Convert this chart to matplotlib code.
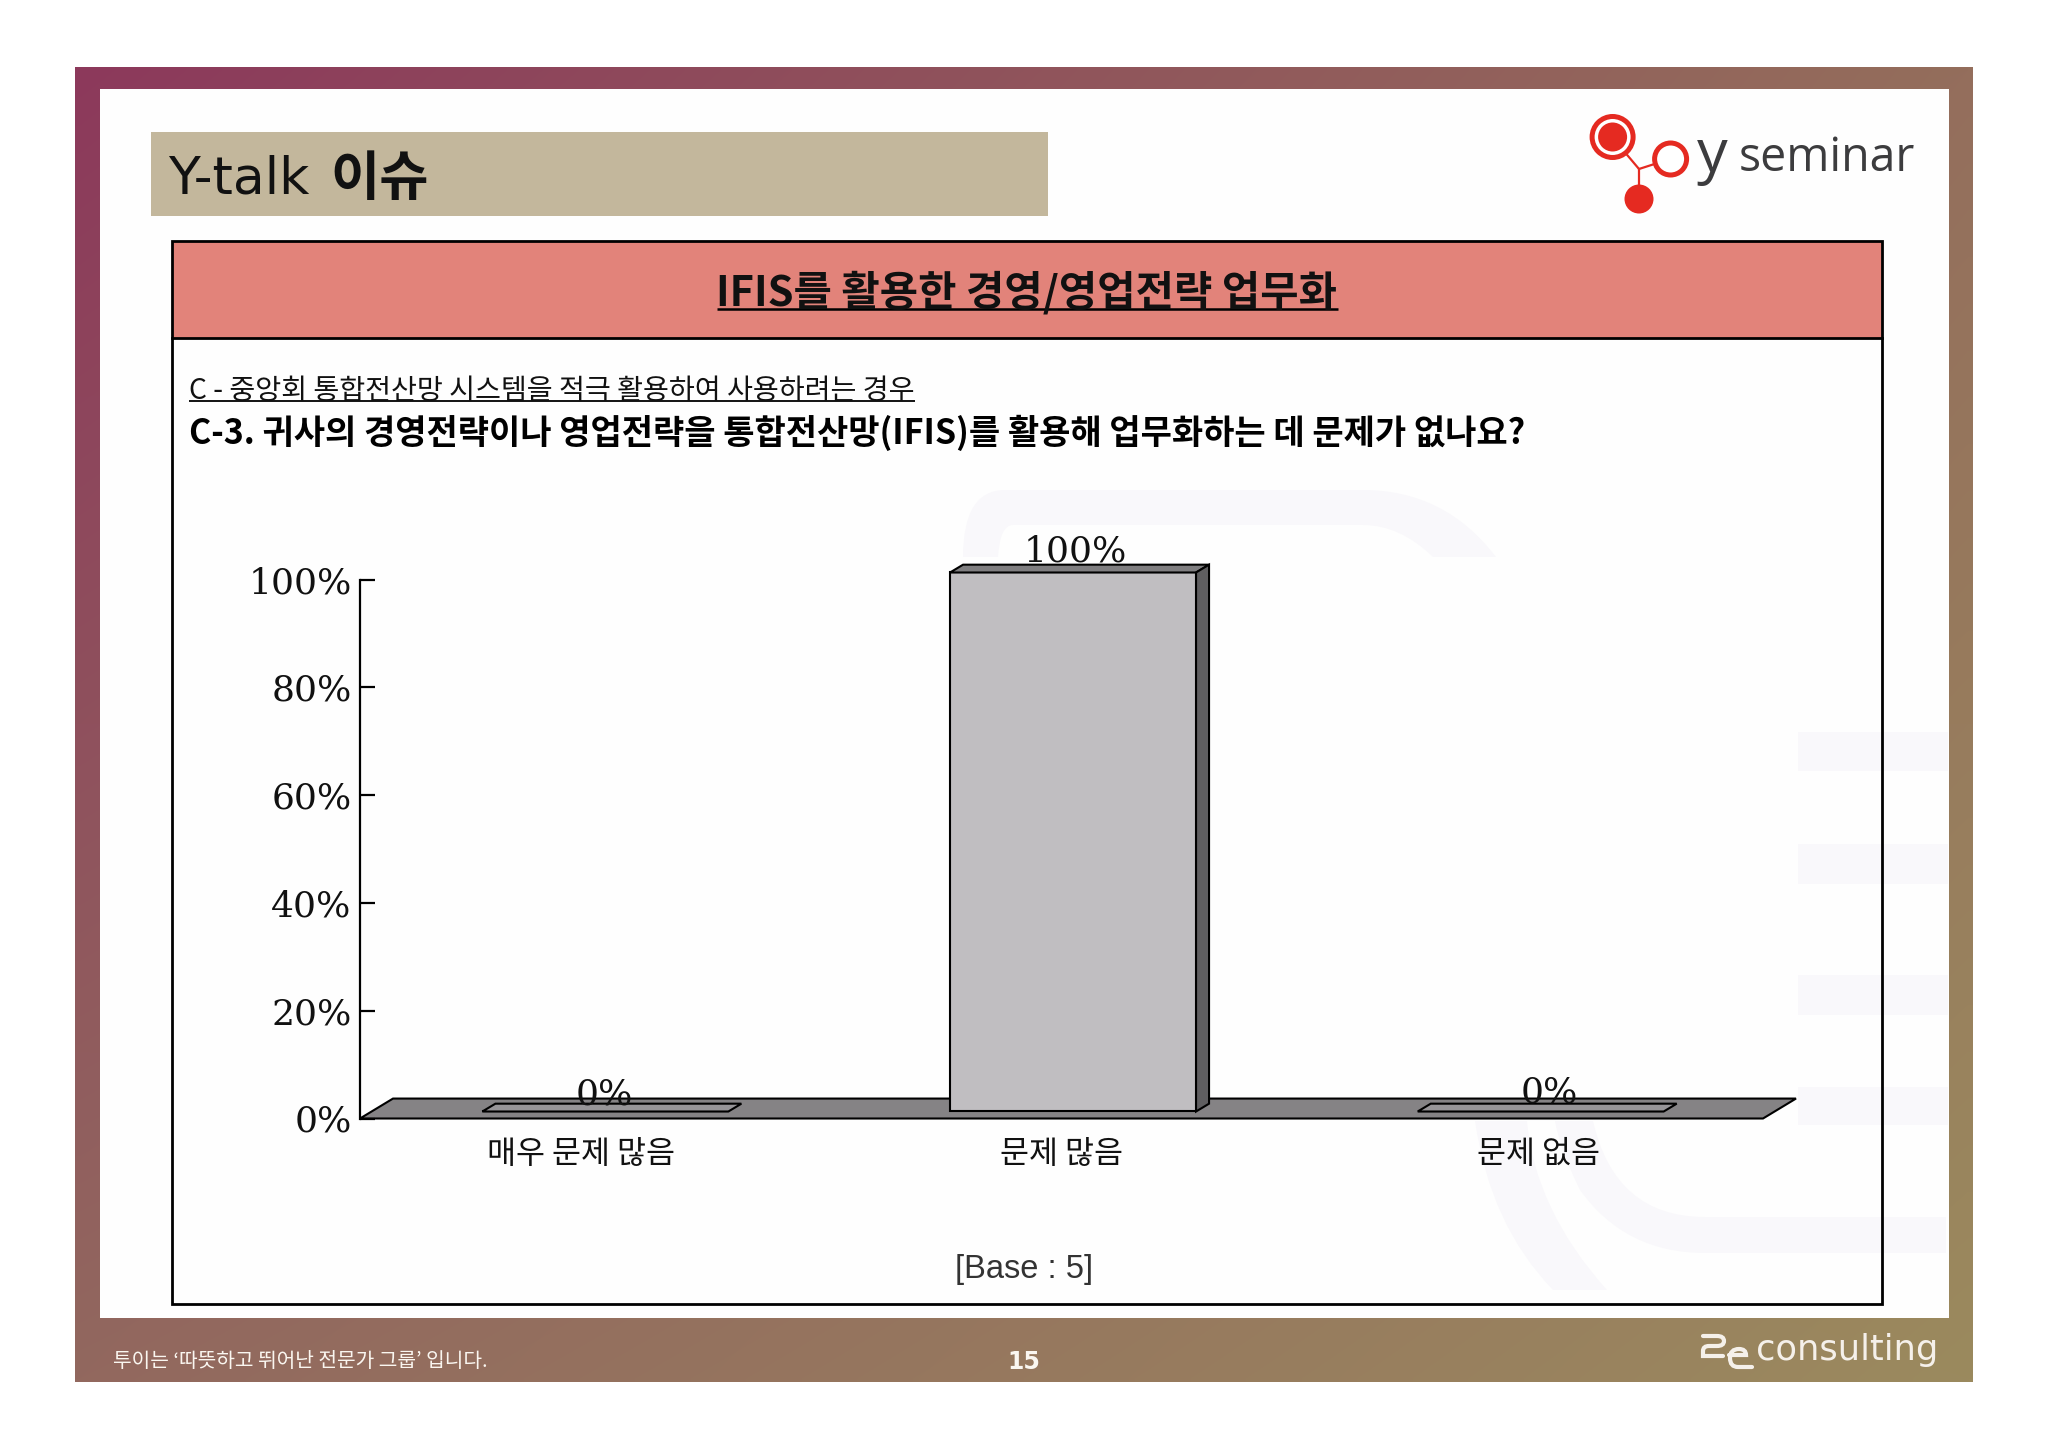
import numpy as np
import matplotlib
matplotlib.use("Agg")
import matplotlib.pyplot as plt
from matplotlib.patches import Rectangle, Circle, PathPatch
from matplotlib.path import Path

KR = ['Noto Sans CJK KR', 'DejaVu Sans']

### DATA
categories = ['매우 문제 많음', '문제 많음', '문제 없음']
values = [0, 100, 0]
y_ticks = [0, 20, 40, 60, 80, 100]
y_labels = ['0%', '20%', '40%', '60%', '80%', '100%']
value_labels = ['0%', '100%', '0%']

W, H = 2048, 1447
fig = plt.figure(figsize=(W / 100, H / 100), dpi=100, facecolor='white')

# page background in pixel coordinates
bg = fig.add_axes([0, 0, 1, 1], zorder=0)
bg.set_xlim(0, W)
bg.set_ylim(H, 0)
bg.axis('off')


def curve(points, **kw):
    # M/L/Q mini path helper: 2 item = line to, 4 item = quadratic to
    verts, codes = [points[0]], [Path.MOVETO]
    for p in points[1:]:
        if len(p) == 2:
            verts.append(p)
            codes.append(Path.LINETO)
        else:
            verts += [(p[0], p[1]), (p[2], p[3])]
            codes += [Path.CURVE3, Path.CURVE3]
    patch = PathPatch(Path(verts, codes), **kw)
    bg.add_patch(patch)
    return patch


def underlined(x, y, s, lw=2.0, **kw):
    t = bg.text(x, y, s, va='baseline', **kw)
    box = t.get_window_extent(fig.canvas.get_renderer())
    bg.plot([box.x0, box.x1], [y + lw + 1, y + lw + 1], color='black', lw=lw, solid_capstyle='butt')
    return t


# frame gradient
gx, gy = np.meshgrid(np.linspace(0, 1, 200), np.linspace(0, 1, 200))
corners = np.array([[140, 57, 91], [148, 110, 92], [146, 104, 95], [155, 138, 94]]) / 255
grad = np.zeros((200, 200, 3))
for c in range(3):
    grad[..., c] = (corners[0, c] * (1 - gx) * (1 - gy) + corners[1, c] * gx * (1 - gy)
                    + corners[2, c] * (1 - gx) * gy + corners[3, c] * gx * gy)
bg.imshow(grad, extent=(75, 1973, 1382, 67), aspect='auto', interpolation='bilinear', zorder=0)
bg.set_xlim(0, W)
bg.set_ylim(H, 0)
bg.add_patch(Rectangle((100, 89), 1849, 1229, fc='#FEFEFE', ec='none', zorder=1))

# faint watermark
mark = dict(fc='#F9F8FB', ec='none', zorder=1.5)
curve([(963, 557), (963, 490, 1005, 490), (1363, 490), (1445, 490, 1496, 557), (1433, 557),
       (1400, 525, 1363, 525), (1013, 525), (1000, 525, 998, 557)], **mark)
for top, bot in [(732, 771), (844, 884), (975, 1015), (1087, 1125)]:
    bg.add_patch(Rectangle((1798, top), 150, bot - top, **mark))
curve([(1475, 1121), (1490, 1225, 1553, 1290), (1607, 1290), (1535, 1210, 1527, 1121)], **mark)
curve([(1593, 1121), (1615, 1217, 1705, 1217), (1946, 1217), (1946, 1253), (1705, 1253),
       (1625, 1253, 1580, 1190), (1560, 1150, 1555, 1121)], **mark)

# title box
bg.add_patch(Rectangle((151, 132), 897, 84, fc='#C3B79C', ec='none', zorder=2))
bg.text(168, 194, 'Y-talk', fontsize=37.5, family='DejaVu Sans', color='#111111', va='baseline', zorder=3)
bg.text(330, 195, '이슈', fontsize=38.5, family=KR, weight='bold', color='#111111', va='baseline', zorder=3)

# logo
red = '#E52A21'
bg.plot([1612, 1639, 1670], [137, 169, 159], color=red, lw=1.6, zorder=2)
bg.plot([1639, 1639], [169, 199], color=red, lw=1.6, zorder=2)
bg.add_patch(Circle((1612.6, 137), 20.5, fc='white', ec=red, lw=3.6, zorder=3))
bg.add_patch(Circle((1612.6, 137), 14.5, fc=red, ec='none', zorder=4))
bg.add_patch(Circle((1670.6, 159), 16, fc='white', ec=red, lw=3.6, zorder=3))
bg.add_patch(Circle((1639, 199), 14.5, fc=red, ec='none', zorder=3))
bg.text(1697, 172, 'y', fontsize=44, family='Open Sans', color='#3C3C3E', va='baseline', zorder=3)
bg.text(1739, 171, 'seminar', fontsize=33.5, family='Open Sans', color='#3C3C3E', va='baseline', zorder=3)

# panel
bg.add_patch(Rectangle((172, 241), 1710, 97, fc='#E2837A', ec='none', zorder=2))
bg.add_patch(Rectangle((172, 241), 1710, 1063, fc='none', ec='black', lw=2, zorder=5))
bg.plot([172, 1882], [338, 338], color='black', lw=2, zorder=5)

underlined(1027, 306, 'IFIS를 활용한 경영/영업전략 업무화', lw=1.8, fontsize=30, family=KR, weight='bold',
           ha='center', color='#111111', zorder=6)
underlined(189, 399, 'C - 중앙회 통합전산망 시스템을 적극 활용하여 사용하려는 경우', lw=1.3, fontsize=20.3, family=KR,
           color='#111111', zorder=6)
bg.text(189, 444, 'C-3. 귀사의 경영전략이나 영업전략을 통합전산망(IFIS)를 활용해 업무화하는 데 문제가 없나요?',
        fontsize=24.5, family=KR, weight='bold', color='black', va='baseline', zorder=6)
bg.text(1024, 1278, '[Base : 5]', fontsize=23.5, family='Liberation Sans', color='#333333',
        ha='center', va='baseline', zorder=6)

# footer
bg.text(113, 1367, '투이는 ‘따뜻하고 뛰어난 전문가 그룹’ 입니다.', fontsize=14.6, family=KR, color='#FAF6F0',
        va='baseline', zorder=6)
bg.text(1024, 1369, '15', fontsize=17, family='DejaVu Sans', weight='bold', color='#FAF6F0',
        ha='center', va='baseline', zorder=6)
bg.text(1756, 1360, 'consulting', fontsize=25.4, family='DejaVu Sans', color='#F5F0EA', va='baseline', zorder=6)
logo_line = dict(fc='none', ec='#F5F0EA', lw=3, zorder=6, capstyle='round')
curve([(1703, 1336), (1717, 1336), (1724, 1336, 1724, 1341), (1724, 1346, 1717, 1346), (1709, 1346),
       (1703, 1346, 1703, 1351), (1703, 1356), (1723, 1356)], **logo_line)
curve([(1729, 1355), (1746, 1355), (1746, 1349, 1739, 1349), (1730, 1349, 1730, 1358),
       (1730, 1367, 1738, 1367), (1752, 1367)], **logo_line)

### CHART
x0, x1, y_base, y_top = 360, 1763, 1118.5, 579.5
ax = fig.add_axes([x0 / W, 1 - y_base / H, (x1 - x0) / W, (y_base - y_top) / H], zorder=2)
ax.patch.set_alpha(0)
ax.set_xlim(-0.5, 2.5)
ax.set_ylim(0, 100)

for s in ['top', 'right', 'bottom']:
    ax.spines[s].set_visible(False)
ax.spines['left'].set_linewidth(1.6)

floor_dx, floor_dy = 0.0706, 3.7
bar_w = 0.526
bar_dx, bar_dy = 0.0247, 1.3     # bars stand a bit inside the floor
side_dx, side_dy = 0.0278, 1.45
edge = dict(edgecolor='black', linewidth=1.5)

ax.fill([-0.5, 2.5, 2.5 + floor_dx, -0.5 + floor_dx], [0, 0, floor_dy, floor_dy],
        facecolor='#858385', clip_on=False, zorder=1, **edge)

x_pos = np.arange(len(categories))
ax.bar(x_pos + bar_dx, values, width=bar_w, bottom=bar_dy, color='#C0BEC1', clip_on=False, zorder=3, **edge)
for xp, v in zip(x_pos, values):
    left = xp + bar_dx - bar_w / 2
    right = left + bar_w
    top = bar_dy + v
    ax.fill([left, right, right + side_dx, left + side_dx],
            [top, top, top + side_dy, top + side_dy],
            facecolor='#7F7E80' if v else '#979598', clip_on=False, zorder=3, **edge)
    if v:
        ax.fill([right, right + side_dx, right + side_dx, right],
                [bar_dy, bar_dy + side_dy, top + side_dy, top],
                facecolor='#5F5E60', clip_on=False, zorder=3, **edge)

label_dx = [0.022, 0.029, 0.043]
label_lift = [2.6, 3.3, 3.0]
for xp, v, s, dx, lift in zip(x_pos, values, value_labels, label_dx, label_lift):
    ax.text(xp + dx, v + lift, s, fontsize=26, family='DejaVu Serif', ha='center', va='baseline',
            color='#111111', clip_on=False, zorder=4)

ax.set_yticks(y_ticks)
ax.set_yticklabels(y_labels, fontsize=26, family='DejaVu Serif', color='#111111')
ax.tick_params(axis='y', direction='in', length=11, width=1.6, pad=6)
ax.set_xticks(x_pos + np.array([-0.027, 0.0, 0.019]))
ax.set_xticklabels(categories, fontsize=22.7, family=KR, color='#111111')
ax.tick_params(axis='x', length=0, pad=14)

fig.savefig('out.png', dpi=100)
